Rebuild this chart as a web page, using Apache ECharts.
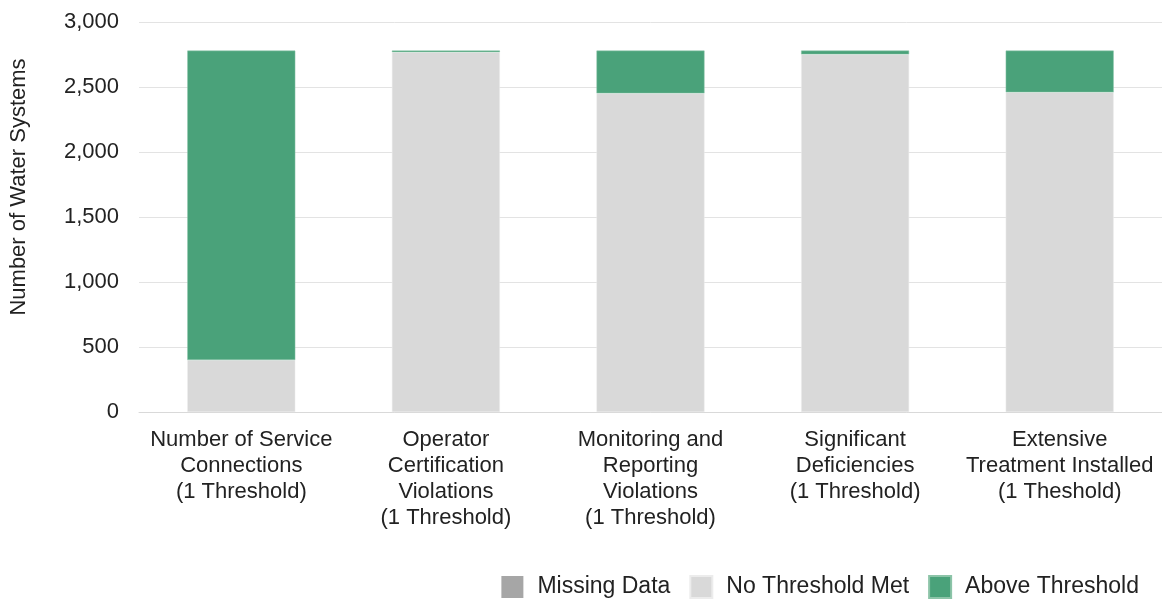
<!DOCTYPE html>
<html><head><meta charset="utf-8">
<script src="https://cdn.jsdelivr.net/npm/echarts@6/dist/echarts.min.js"></script>
<style>html,body{margin:0;padding:0;background:#fff}#c{width:1162px;height:601px}</style>
</head><body><div id="c"></div>
<script>
const categories = [
  "Number of Service\nConnections\n(1 Threshold)",
  "Operator\nCertification\nViolations\n(1 Threshold)",
  "Monitoring and\nReporting\nViolations\n(1 Threshold)",
  "Significant\nDeficiencies\n(1 Threshold)",
  "Extensive\nTreatment Installed\n(1 Theshold)"
];
const missingData = [0, 0, 0, 0, 0];
const noThreshold = [400, 2768, 2451, 2751, 2459];
const aboveThreshold = [2380, 12, 329, 29, 321];
const yTicks = [0, 500, 1000, 1500, 2000, 2500, 3000];

const font = 'Liberation Sans, Arial, sans-serif';
const txt = '#222';
const chart = echarts.init(document.getElementById('c'));
chart.setOption({
  animation: false,
  grid: {left: 138, right: -3, top: 22, bottom: 189, containLabel: false},
  legend: {
    bottom: 2, right: 23, padding: 0, itemWidth: 22, itemHeight: 22, itemGap: 19,
    icon: 'rect',
    textStyle: {fontFamily: font, fontSize: 23, color: txt, padding: [0, 0, 0, 9]},
    data: ['Missing Data', 'No Threshold Met', 'Above Threshold']
  },
  xAxis: {
    type: 'category', data: categories,
    axisLine: {lineStyle: {color: '#d9d9d9', width: 1}},
    axisTick: {show: false},
    axisLabel: {fontFamily: font, fontSize: 22, color: txt, lineHeight: 26, margin: 15, interval: 0}
  },
  yAxis: {
    type: 'value', min: 0, max: 3000, interval: 500,
    name: 'Number of Water Systems', nameLocation: 'middle', nameGap: 109,
    nameTextStyle: {fontFamily: font, fontSize: 22, color: txt, padding: [0, 0, 0, 60]},
    axisLine: {show: false}, axisTick: {show: false},
    splitLine: {lineStyle: {color: '#e3e3e3', width: 1}},
    axisLabel: {fontFamily: font, fontSize: 22, color: txt, margin: 20,
      formatter: v => yTicks.includes(v) ? v.toLocaleString('en-US') : ''}
  },
  series: [
    {name: 'Missing Data', type: 'bar', stack: 's', data: missingData, barWidth: 108,
     itemStyle: {color: '#a6a6a6'}},
    {name: 'No Threshold Met', type: 'bar', stack: 's', data: noThreshold, barWidth: 108,
     itemStyle: {color: '#d9d9d9', borderColor: '#ececec', borderWidth: 0.5}},
    {name: 'Above Threshold', type: 'bar', stack: 's', data: aboveThreshold, barWidth: 108,
     itemStyle: {color: '#4aa27a', borderColor: '#8cc4a8', borderWidth: 0.5}}
  ]
});
</script></body></html>
